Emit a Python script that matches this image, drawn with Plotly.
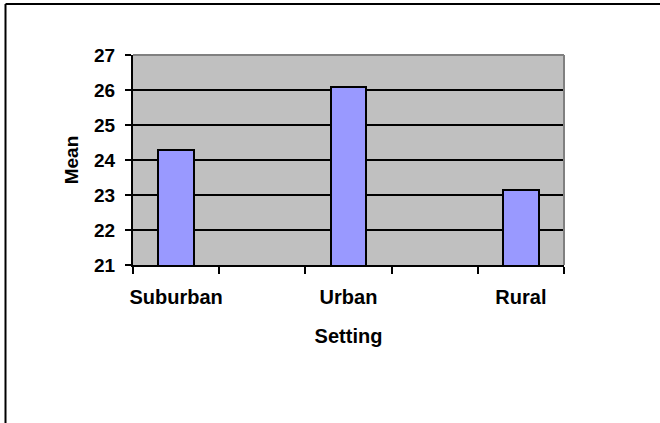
import plotly.graph_objects as go

# Data (5 category slots, two left blank)
categories = ["Suburban", " ", "Urban", "  ", "Rural"]
means = [24.28, None, 26.1, None, 23.15]
y_ticks = [21, 22, 23, 24, 25, 26, 27]

FONT = "Liberation Sans, Arial, sans-serif"

fig = go.Figure()
fig.add_trace(go.Bar(
    x=categories, y=means,
    width=0.41,
    marker=dict(color="#9999FF", line=dict(color="black", width=2)),
    showlegend=False,
))

# plot area in pixels: x 133..564, y 55..265
L, R, T, B = 133, 564, 55, 265
W, H = R - L, B - T
def xp(px):
    return (px - L) / W
def yp(py):
    return (B - py) / H

shapes = [
    # outer frame (clipped at right and bottom)
    dict(type="line", xref="paper", yref="paper", x0=xp(5.5), x1=xp(700), y0=yp(4), y1=yp(4),
         line=dict(color="black", width=2)),
    dict(type="line", xref="paper", yref="paper", x0=xp(5.5), x1=xp(5.5), y0=yp(4), y1=yp(460),
         line=dict(color="black", width=2)),
    # gray top and right plot borders
    dict(type="line", xref="paper", yref="paper", x0=0, x1=1, y0=1, y1=1,
         line=dict(color="#808080", width=2), layer="above"),
    dict(type="line", xref="paper", yref="paper", x0=1, x1=1, y0=0, y1=1,
         line=dict(color="#808080", width=2), layer="above"),
]

fig.update_layout(
    width=660, height=423,
    margin=dict(l=L, r=660 - R, t=T, b=423 - B, autoexpand=False),
    paper_bgcolor="white",
    plot_bgcolor="#C0C0C0",
    font=dict(family=FONT, size=18, color="black", weight="bold"),
    shapes=shapes,
    bargap=0,
)
fig.update_xaxes(
    type="category",
    categoryorder="array", categoryarray=categories,
    range=[-0.5, 4.5],
    showgrid=False,
    showline=True, linecolor="black", linewidth=2,
    ticks="outside", tickson="boundaries", ticklen=7, tickwidth=2, tickcolor="black",
    tickangle=0,
    ticklabelstandoff=13,
    tickfont=dict(family=FONT, size=20, weight="bold"),
    title=dict(text="Setting", font=dict(family=FONT, size=20, weight="bold"), standoff=22),
    fixedrange=True,
)
fig.update_yaxes(
    range=[21, 27],
    tickvals=y_ticks,
    showgrid=True, gridcolor="black", gridwidth=2,
    zeroline=False,
    showline=True, linecolor="black", linewidth=2,
    ticks="outside", ticklen=6, tickwidth=2, tickcolor="black",
    ticklabelstandoff=6,
    tickfont=dict(family=FONT, size=19, weight="bold"),
    title=dict(text="Mean", font=dict(family=FONT, size=19, weight="bold"), standoff=10),
    fixedrange=True,
)

fig.write_html(
    "out.html",
    config={"displayModeBar": False},
    post_script="document.body.style.margin='0';document.body.style.overflow='hidden';",
)
